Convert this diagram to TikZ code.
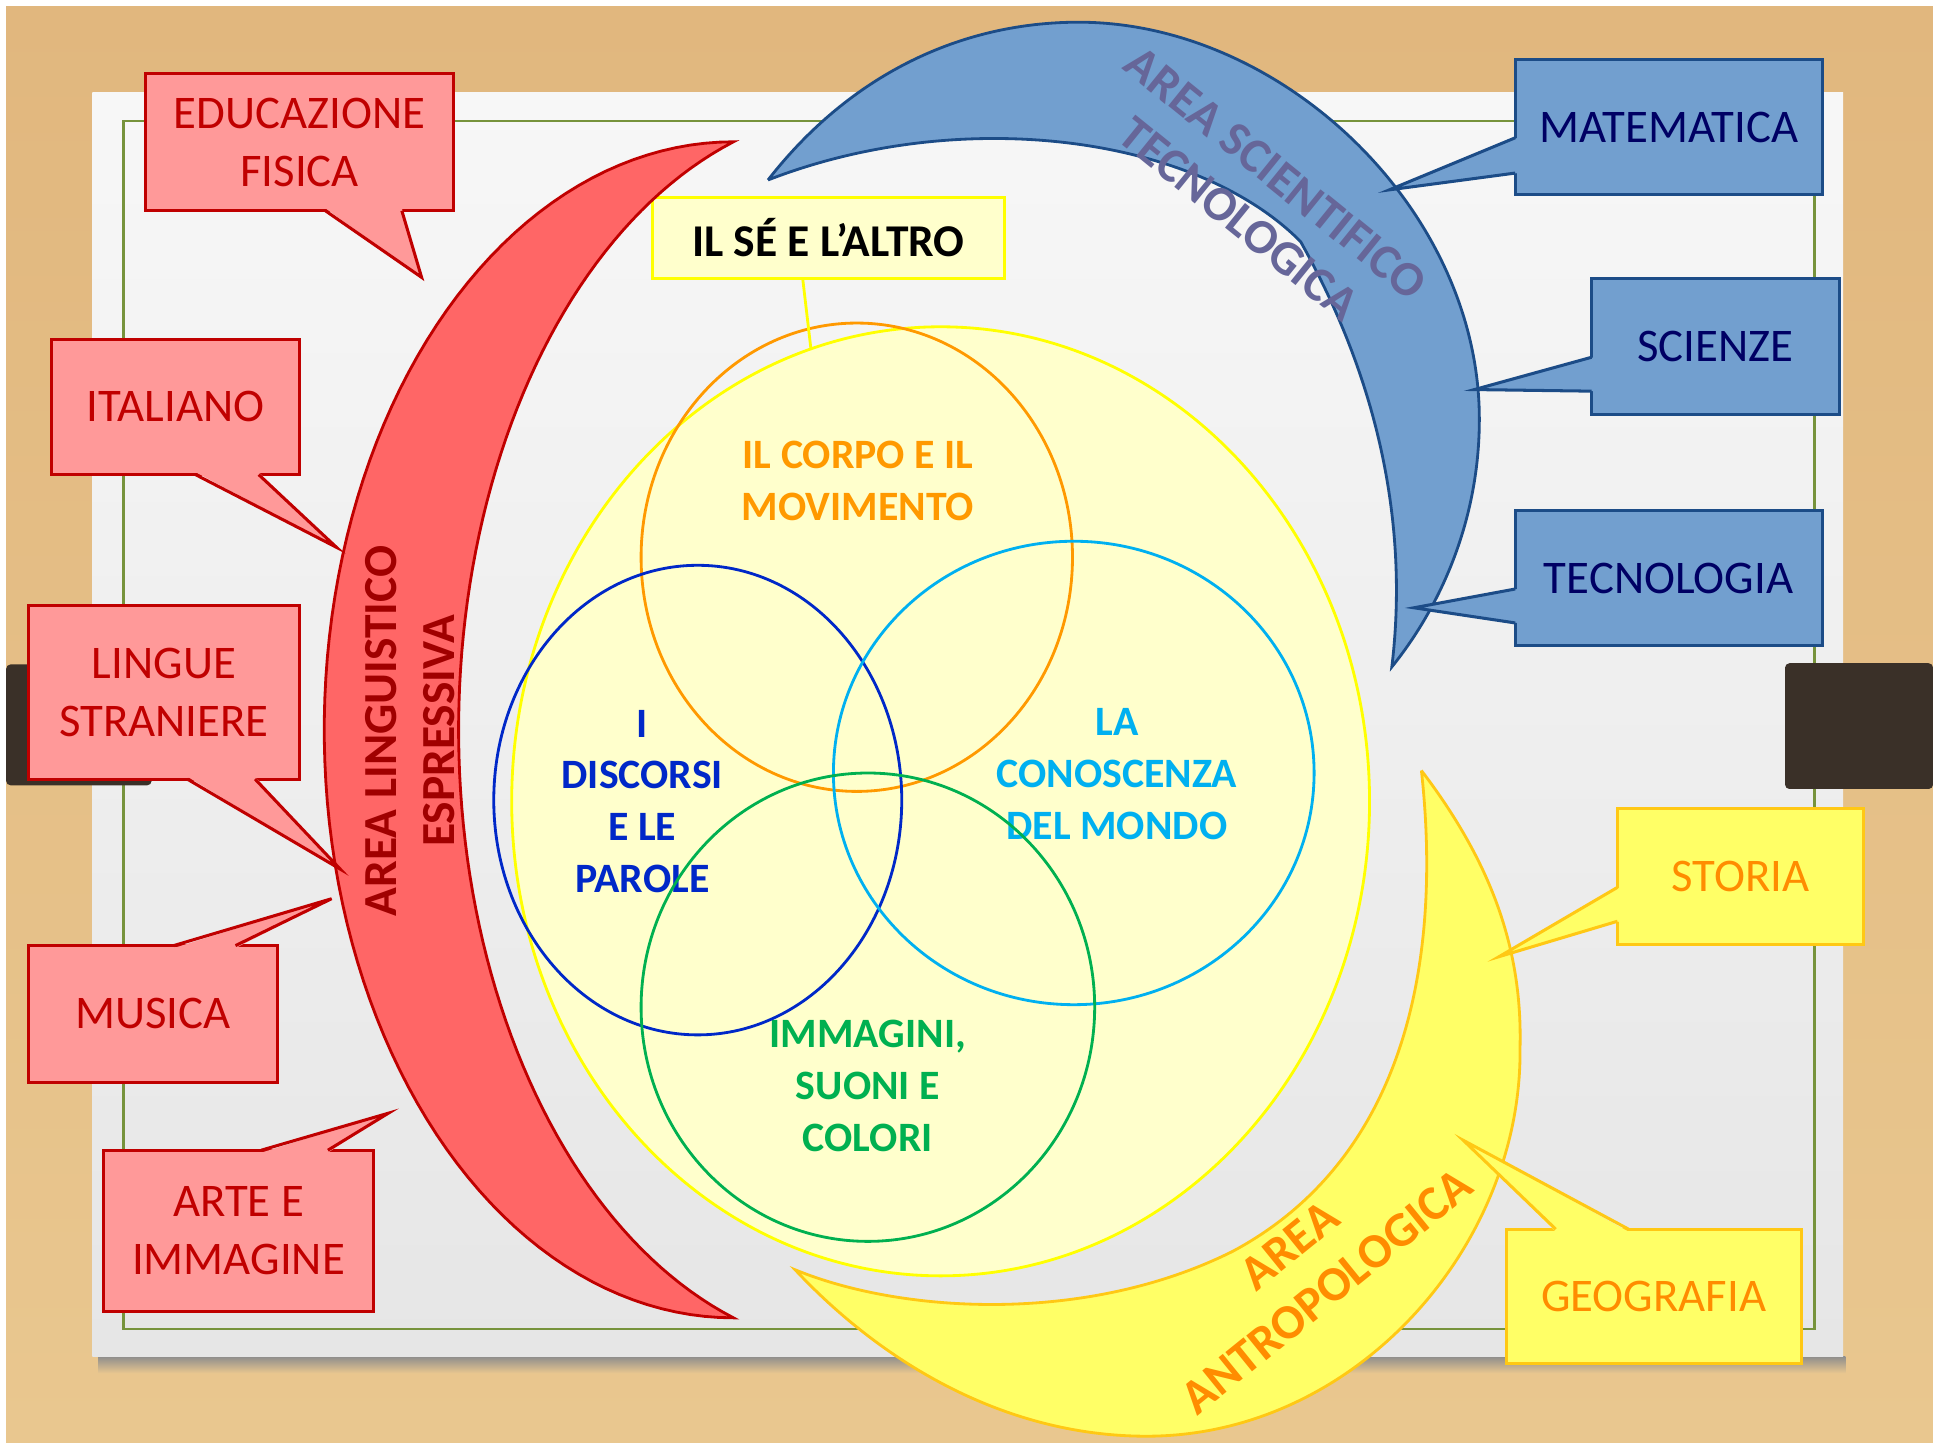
\documentclass[tikz,border=0pt]{standalone}
\usepackage{fontspec}
\setmainfont{Carlito}
\usetikzlibrary{positioning, shapes.geometric, calc}

\definecolor{wood}{RGB}{233,199,143}
\definecolor{woodtop}{RGB}{225,183,126}
\definecolor{boardtop}{RGB}{247,247,247}
\definecolor{boardlow}{RGB}{230,230,230}
\definecolor{framegreen}{RGB}{119,147,60}
\definecolor{clipbrown}{RGB}{58,48,40}
\definecolor{redfill}{RGB}{255,153,153}
\definecolor{redline}{RGB}{192,0,0}
\definecolor{redarea}{RGB}{255,102,102}
\definecolor{redtext}{RGB}{160,0,0}
\definecolor{bluefill}{RGB}{114,159,207}
\definecolor{blueline}{RGB}{28,76,135}
\definecolor{navy}{RGB}{0,0,100}
\definecolor{bluetext}{RGB}{102,102,153}
\definecolor{yelfill}{RGB}{255,255,102}
\definecolor{yelline}{RGB}{255,200,20}
\definecolor{orangetext}{RGB}{255,140,0}
\definecolor{paleyel}{RGB}{255,255,204}
\definecolor{brightyel}{RGB}{255,255,0}
\definecolor{corpocol}{RGB}{255,153,0}
\definecolor{discol}{RGB}{0,40,200}
\definecolor{concol}{RGB}{0,176,240}
\definecolor{immcol}{RGB}{0,176,80}

\begin{document}
\begin{tikzpicture}[
    x=0.02cm, y=-0.02cm,
    font=\fontsize{21.6}{26.8}\selectfont,
    % callout boxes
    box/.style={rectangle, line width=1.4pt, align=center, inner sep=0pt, outer sep=0pt},
    redbox/.style={box, fill=redfill, draw=redline, text=redline},
    bluebox/.style={box, fill=bluefill, draw=blueline, text=navy},
    yelbox/.style={box, fill=yelfill, draw=yelline, text=orangetext},
    % callout pointers
    redptr/.style={draw=redline, line width=1.4pt, line join=miter},
    blueptr/.style={draw=blueline, line width=1.4pt, line join=miter},
    yelptr/.style={draw=yelline, line width=1.4pt, line join=miter},
    % venn rings and labels
    ring/.style={ellipse, line width=1.3pt, inner sep=0pt, outer sep=0pt},
    lbl/.style={font=\bfseries\fontsize{19.3}{23.9}\selectfont, align=center},
    area/.style={font=\bfseries\fontsize{22.6}{27.3}\selectfont, align=center}
]

% ==========================================
% BOARD
% ==========================================
\useasboundingbox (0,0) rectangle (1568,1170);
\fill[white] (0,0) rectangle (1568,1170);
\shade[top color=woodtop, bottom color=wood] (5,5) rectangle (1568,1170);
\shade[top color=black!45, bottom color=wood] (80,1100) rectangle (1497,1114);
\shade[top color=boardtop, bottom color=boardlow] (75,75) rectangle (1495,1100);
\draw[framegreen, line width=1.2pt] (100,98) rectangle (1472,1078);
\fill[clipbrown, rounded corners=2pt] (5,539) rectangle (123,637);
\fill[clipbrown, rounded corners=2pt] (1448,538) rectangle (1568,640);

% ==========================================
% FIELDS OF EXPERIENCE
% ==========================================
\node[ring, fill=paleyel, draw=brightyel, minimum width=13.92cm, minimum height=15.4cm] (bigell) at (763,650) {};

\node[lbl, text=corpocol] (corpoLbl) at (696,390) {IL CORPO E IL\\MOVIMENTO};
\node[lbl, text=discol] (discLbl) at (521,650) {I\\DISCORSI\\E LE\\PAROLE};
\node[lbl, text=concol] (conLbl) at (906,628) {LA\\CONOSCENZA\\DEL MONDO};
\node[lbl, text=immcol] (immLbl) at (704,881) {IMMAGINI,\\SUONI E\\COLORI};

\node[ring, draw=corpocol, minimum width=7cm, minimum height=7.6cm] (corpo) at (695,452) {};
\node[ring, draw=discol, minimum width=6.62cm, minimum height=7.62cm] (discorsi) at (566,649) {};
\node[ring, draw=concol, minimum width=7.8cm, minimum height=7.52cm] (conoscenza) at (871,627) {};
\node[ring, draw=immcol, minimum width=7.36cm, minimum height=7.6cm] (immagini) at (704,817) {};

\node[box, fill=paleyel, draw=brightyel, font=\bfseries\fontsize{21}{26}\selectfont,
      minimum width=5.72cm, minimum height=1.32cm] (self) at (672,193) {IL SÉ E L’ALTRO};
\draw[brightyel, line width=1.3pt] ($(self.south west)!.427!(self.south east)$) -- (bigell.106);

% ==========================================
% AREAS
% ==========================================
% --- linguistico espressiva
\filldraw[fill=redarea, draw=redline, line width=1.3pt]
  plot[domain=270:90, samples=90] ({595+332*cos(\x)}, {592+477*sin(\x)})
  -- plot[domain=108.8:251.2, samples=90] ({700+328*cos(\x)}, {592+503.5*sin(\x)}) -- cycle;
\node[area, text=redtext, rotate=90, font=\bfseries\fontsize{21.9}{26.7}\selectfont] (lingLbl) at (333,593) {AREA LINGUISTICO\\ESPRESSIVA};

% --- scientifico tecnologica
\filldraw[fill=bluefill, draw=blueline, line width=1.3pt]
  (623,146) .. controls (690,60) and (780,18) .. (875,18)
  .. controls (1040,18) and (1200,170) .. (1200,340)
  .. controls (1200,420) and (1170,490) .. (1129,541)
  .. controls (1140,450) and (1130,330) .. (1055,196)
  .. controls (970,110) and (780,85) .. (623,146);
\node[area, text=bluetext, rotate=-39] (sciLbl) at (1020,159) {AREA SCIENTIFICO\\TECNOLOGICA};

% --- antropologica
\filldraw[fill=yelfill, draw=yelline, line width=1.3pt]
  (1153,625) .. controls (1210,700) and (1235,770) .. (1233,850)
  .. controls (1235,1010) and (1100,1165) .. (930,1165)
  .. controls (820,1165) and (720,1110) .. (645,1030)
  .. controls (730,1065) and (880,1075) .. (1000,1015)
  .. controls (1140,940) and (1170,780) .. (1153,625);
\node[area, text=orangetext, rotate=39] (antLbl) at (1061,1029) {AREA\\ANTROPOLOGICA};

% ==========================================
% SUBJECT CALLOUTS
% ==========================================
% --- red (left)
\coordinate (eduTip) at (342,225);
\coordinate (itaTip) at (273,444);
\coordinate (linTip) at (276,705);
\coordinate (musTip) at (269,729);
\coordinate (artTip) at (315,903);

\node[redbox, minimum width=5cm, minimum height=2.22cm] (edu) at (243,115.5) {EDUCAZIONE\\FISICA};
\fill[redfill] ($(edu.south west)!.584!(edu.south east)+(0,-2)$) -- (eduTip) -- ($(edu.south west)!.832!(edu.south east)+(0,-2)$) -- cycle;
\draw[redptr] ($(edu.south west)!.584!(edu.south east)$) -- (eduTip) -- ($(edu.south west)!.832!(edu.south east)$);

\node[redbox, minimum width=4.02cm, minimum height=2.2cm] (ita) at (142.5,330) {ITALIANO};
\fill[redfill] ($(ita.south west)!.58!(ita.south east)+(0,-2)$) -- (itaTip) -- ($(ita.south west)!.835!(ita.south east)+(0,-2)$) -- cycle;
\draw[redptr] ($(ita.south west)!.58!(ita.south east)$) -- (itaTip) -- ($(ita.south west)!.835!(ita.south east)$);

\node[redbox, minimum width=4.4cm, minimum height=2.82cm] (lin) at (133,561.5) {LINGUE\\STRANIERE};
\fill[redfill] ($(lin.south west)!.586!(lin.south east)+(0,-2)$) -- (linTip) -- ($(lin.south west)!.836!(lin.south east)+(0,-2)$) -- cycle;
\draw[redptr] ($(lin.south west)!.586!(lin.south east)$) -- (linTip) -- ($(lin.south west)!.836!(lin.south east)$);

\node[redbox, minimum width=4.04cm, minimum height=2.22cm] (mus) at (124,822.5) {MUSICA};
\fill[redfill] ($(mus.north west)!.584!(mus.north east)+(0,2)$) -- (musTip) -- ($(mus.north west)!.832!(mus.north east)+(0,2)$) -- cycle;
\draw[redptr] ($(mus.north west)!.584!(mus.north east)$) -- (musTip) -- ($(mus.north west)!.832!(mus.north east)$);

\node[redbox, minimum width=4.38cm, minimum height=2.62cm] (art) at (193.5,998.5) {ARTE E\\IMMAGINE};
\fill[redfill] ($(art.north west)!.584!(art.north east)+(0,2)$) -- (artTip) -- ($(art.north west)!.831!(art.north east)+(0,2)$) -- cycle;
\draw[redptr] ($(art.north west)!.584!(art.north east)$) -- (artTip) -- ($(art.north west)!.831!(art.north east)$);

% --- blue (top right)
\coordinate (matTip) at (1127,154);
\coordinate (sciTip) at (1196,316);
\coordinate (tecTip) at (1147,493);

\node[bluebox, minimum width=4.98cm, minimum height=2.2cm] (mat) at (1353.5,103) {MATEMATICA};
\fill[bluefill] ($(mat.north west)!.58!(mat.south west)+(2,0)$) -- (matTip) -- ($(mat.north west)!.84!(mat.south west)+(2,0)$) -- cycle;
\draw[blueptr] ($(mat.north west)!.58!(mat.south west)$) -- (matTip) -- ($(mat.north west)!.84!(mat.south west)$);

\node[bluebox, minimum width=4.02cm, minimum height=2.2cm] (sci) at (1391.5,281) {SCIENZE};
\fill[bluefill] ($(sci.north west)!.58!(sci.south west)+(2,0)$) -- (sciTip) -- ($(sci.north west)!.83!(sci.south west)+(2,0)$) -- cycle;
\draw[blueptr] ($(sci.north west)!.58!(sci.south west)$) -- (sciTip) -- ($(sci.north west)!.83!(sci.south west)$);

\node[bluebox, minimum width=4.98cm, minimum height=2.2cm] (tec) at (1353.5,469) {TECNOLOGIA};
\fill[bluefill] ($(tec.north west)!.58!(tec.south west)+(2,0)$) -- (tecTip) -- ($(tec.north west)!.83!(tec.south west)+(2,0)$) -- cycle;
\draw[blueptr] ($(tec.north west)!.58!(tec.south west)$) -- (tecTip) -- ($(tec.north west)!.83!(tec.south west)$);

% --- yellow (bottom right)
\coordinate (stoTip) at (1216,776);
\coordinate (geoTip) at (1187,925);

\node[yelbox, minimum width=4cm, minimum height=2.2cm] (sto) at (1412,711) {STORIA};
\fill[yelfill] ($(sto.north west)!.58!(sto.south west)+(2,0)$) -- (stoTip) -- ($(sto.north west)!.83!(sto.south west)+(2,0)$) -- cycle;
\draw[yelptr] ($(sto.north west)!.58!(sto.south west)$) -- (stoTip) -- ($(sto.north west)!.83!(sto.south west)$);

\node[yelbox, minimum width=4.78cm, minimum height=2.18cm] (geo) at (1341.5,1051.5) {GEOGRAFIA};
\fill[yelfill] ($(geo.north west)!.167!(geo.north east)+(0,2)$) -- (geoTip) -- ($(geo.north west)!.414!(geo.north east)+(0,2)$) -- cycle;
\draw[yelptr] ($(geo.north west)!.167!(geo.north east)$) -- (geoTip) -- ($(geo.north west)!.414!(geo.north east)$);

\end{tikzpicture}
\end{document}
